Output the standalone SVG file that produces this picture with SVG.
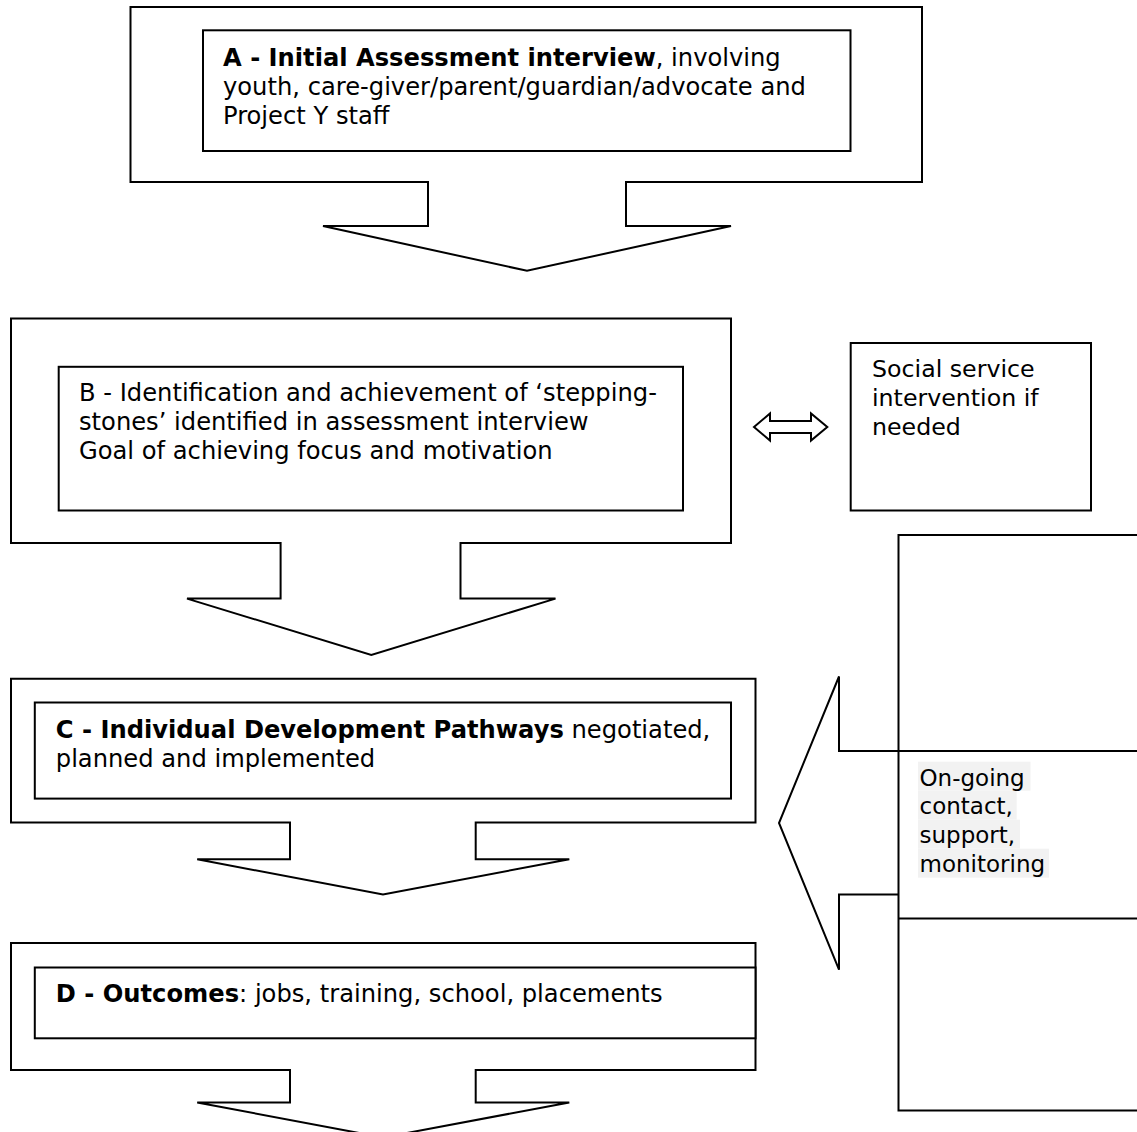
<svg xmlns="http://www.w3.org/2000/svg" width="1137" height="1132" viewBox="0 0 1137 1132">
<style>
.sh{fill:#fff;stroke:#000;stroke-width:2;stroke-linejoin:miter}
.ln{fill:none;stroke:#000;stroke-width:2}
.t{font-family:"DejaVu Sans","Verdana",sans-serif;font-size:24.2px;fill:#000}
.s{font-size:23.7px}
.o{font-size:23px}
.b{font-weight:bold}
.hl{fill:#f2f2f2}
</style>
<rect width="1137" height="1132" fill="#fff"/>
<g id="nodeA">
<polygon class="sh" points="130.5,7 922,7 922,182 626,182 626,226 731,226 527,270.8 323,226 428,226 428,182 130.5,182"/>
<rect class="sh" x="203" y="30.3" width="647.5" height="120.7"/>
<text class="t" x="223" y="66.4"><tspan class="b">A - Initial Assessment interview</tspan>, involving</text>
<text class="t" x="223" y="95.3">youth, care-giver/parent/guardian/advocate and</text>
<text class="t" x="223" y="124.2">Project Y staff</text>
</g>
<g id="nodeB">
<polygon class="sh" points="11,318.4 731,318.4 731,543 460.5,543 460.5,598.6 555.5,598.6 371.3,654.9 187,598.6 280.6,598.6 280.6,543 11,543"/>
<rect class="sh" x="58.7" y="366.8" width="624.3" height="143.7"/>
<text class="t" x="79" y="401.4">B - Identification and achievement of ‘stepping-</text>
<text class="t" x="79" y="430.3">stones’ identified in assessment interview</text>
<text class="t" x="79" y="459.2">Goal of achieving focus and motivation</text>
</g>
<g id="nodeSocial">
<rect class="sh" x="850.7" y="343" width="240.3" height="167.5"/>
<text class="t s" x="872" y="377">Social service</text>
<text class="t s" x="872" y="405.8">intervention if</text>
<text class="t s" x="872" y="434.7">needed</text>
</g>
<g id="nodeC">
<polygon class="sh" points="11,678.7 755.5,678.7 755.5,822.4 475.7,822.4 475.7,859.2 569.3,859.2 383,894.6 197.2,859.2 290,859.2 290,822.4 11,822.4"/>
<rect class="sh" x="34.8" y="702.5" width="696.2" height="96.1"/>
<text class="t" x="55.8" y="737.9"><tspan class="b">C - Individual Development Pathways</tspan> negotiated,</text>
<text class="t" x="55.8" y="766.8">planned and implemented</text>
</g>
<g id="nodeD">
<polygon class="sh" points="11,943 755.5,943 755.5,1070 475.7,1070 475.7,1102.5 569.3,1102.5 383,1137.5 197.2,1102.5 290,1102.5 290,1070 11,1070"/>
<rect class="sh" x="34.8" y="967.5" width="720.7" height="70.8"/>
<text class="t" x="55.8" y="1002.2"><tspan class="b">D - Outcomes</tspan>: jobs, training, school, placements</text>
</g>
<g id="nodeOngoing">
<rect class="sh" x="898.5" y="535" width="260" height="575.5"/>
<line class="ln" x1="898.5" y1="918.4" x2="1137" y2="918.4"/>
<rect class="hl" x="918" y="761.7" width="112.5" height="29"/>
<rect class="hl" x="918" y="790.7" width="98.7" height="29"/>
<rect class="hl" x="918" y="819.7" width="102" height="29"/>
<rect class="hl" x="918" y="848.7" width="131" height="29"/>
<text class="t o" x="919.5" y="785.6">On-going</text>
<text class="t o" x="919.5" y="814.4">contact,</text>
<text class="t o" x="919.5" y="843.3">support,</text>
<text class="t o" x="919.5" y="872.2">monitoring</text>
</g>
<g id="connectors">
<polygon class="sh" points="754,427 770,413.5 770,421 811,421 811,413.5 827.3,427 811,440.5 811,433 770,433 770,440.5"/>
<polyline class="ln" points="898.5,894.6 839,894.6 839,969.7 779,823 839,676.5 839,751 1137,751"/>
</g>
</svg>
